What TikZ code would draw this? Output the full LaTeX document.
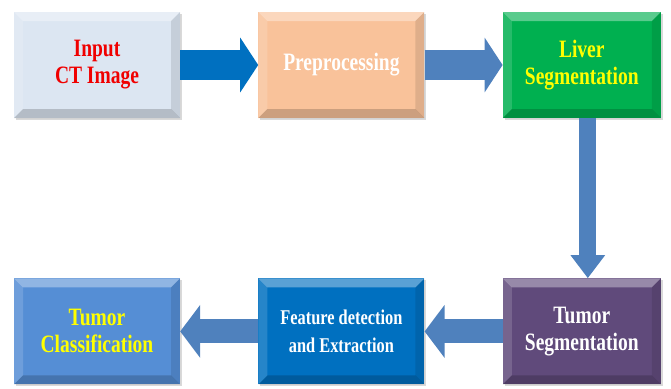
\documentclass[tikz,border=0pt]{standalone}
\usepackage{fontspec}
\setmainfont{Liberation Serif}[FakeStretch=0.78]
\usetikzlibrary{positioning,arrows.meta,shadows}

\definecolor{inputfill}{HTML}{DCE6F2}
\definecolor{prefill}{HTML}{F9C29A}
\definecolor{liverfill}{HTML}{00B050}
\definecolor{classfill}{HTML}{558ED5}
\definecolor{featfill}{HTML}{0070C0}
\definecolor{tumorfill}{HTML}{604A7B}
\definecolor{arrowdark}{HTML}{0070C0}
\definecolor{arrowlight}{HTML}{4F81BD}
\definecolor{txtred}{HTML}{F00000}
\definecolor{txtyellow}{HTML}{FFFF00}

\tikzset{
    bevel/.style={path picture={
        \fill[white,opacity=0.35] (path picture bounding box.north west) -- (path picture bounding box.north east)
            -- ([shift={(-9pt,-9pt)}]path picture bounding box.north east) -- ([shift={(9pt,-9pt)}]path picture bounding box.north west) -- cycle;
        \fill[white,opacity=0.15] (path picture bounding box.north west) -- ([shift={(9pt,-9pt)}]path picture bounding box.north west)
            -- ([shift={(9pt,9pt)}]path picture bounding box.south west) -- (path picture bounding box.south west) -- cycle;
        \fill[black,opacity=0.18] (path picture bounding box.south west) -- ([shift={(9pt,9pt)}]path picture bounding box.south west)
            -- ([shift={(-9pt,9pt)}]path picture bounding box.south east) -- (path picture bounding box.south east) -- cycle;
        \fill[black,opacity=0.10] (path picture bounding box.north east) -- (path picture bounding box.south east)
            -- ([shift={(-9pt,9pt)}]path picture bounding box.south east) -- ([shift={(-9pt,-9pt)}]path picture bounding box.north east) -- cycle;
    }},
    stage/.style={bevel, minimum width=166pt, minimum height=106pt, align=center, inner sep=0pt,
        font=\fontsize{25}{27}\selectfont\bfseries,
        drop shadow={opacity=0.3, shadow xshift=2pt, shadow yshift=-2pt}},
    blockarrow/.style={line width=30pt, -{Triangle[length=18pt, width=54pt]}},
    slimarrow/.style={line width=17pt, -{Triangle[length=23pt, width=33pt]}}
}

\begin{document}
\begin{tikzpicture}[x=1pt, y=1pt, node distance=78pt and 78pt]
    \useasboundingbox (0,0) rectangle (671,-388);

    \node[stage, fill=inputfill, text=txtred] (input) at (97,-65) {Input\\CT Image};
    \node[stage, fill=prefill, text=white, right=of input] (prep) {Preprocessing};
    \node[stage, fill=liverfill, text=txtyellow, minimum width=158pt, right=of prep] (liver) {Liver\\Segmentation};
    \node[stage, fill=tumorfill, text=white, minimum width=158pt, below=160pt of liver] (tumor) {Tumor\\Segmentation};
    \node[stage, fill=featfill, text=white, left=of tumor, font=\fontsize{21}{28}\selectfont\bfseries] (feat) {Feature detection\\and Extraction};
    \node[stage, fill=classfill, text=txtyellow, left=of feat] (classif) {Tumor\\Classification};

    \draw[blockarrow, arrowdark] (input) -- (prep);
    \draw[blockarrow, arrowlight] (prep) -- (liver);
    \draw[slimarrow, arrowlight] ([xshift=6pt]liver.south) -- ([xshift=6pt]tumor.north);
    \draw[blockarrow, arrowlight, line width=24pt, -{Triangle[length=20pt, width=52pt]}] (tumor) -- (feat);
    \draw[blockarrow, arrowlight, line width=24pt, -{Triangle[length=20pt, width=52pt]}] (feat) -- (classif);

\end{tikzpicture}
\end{document}
